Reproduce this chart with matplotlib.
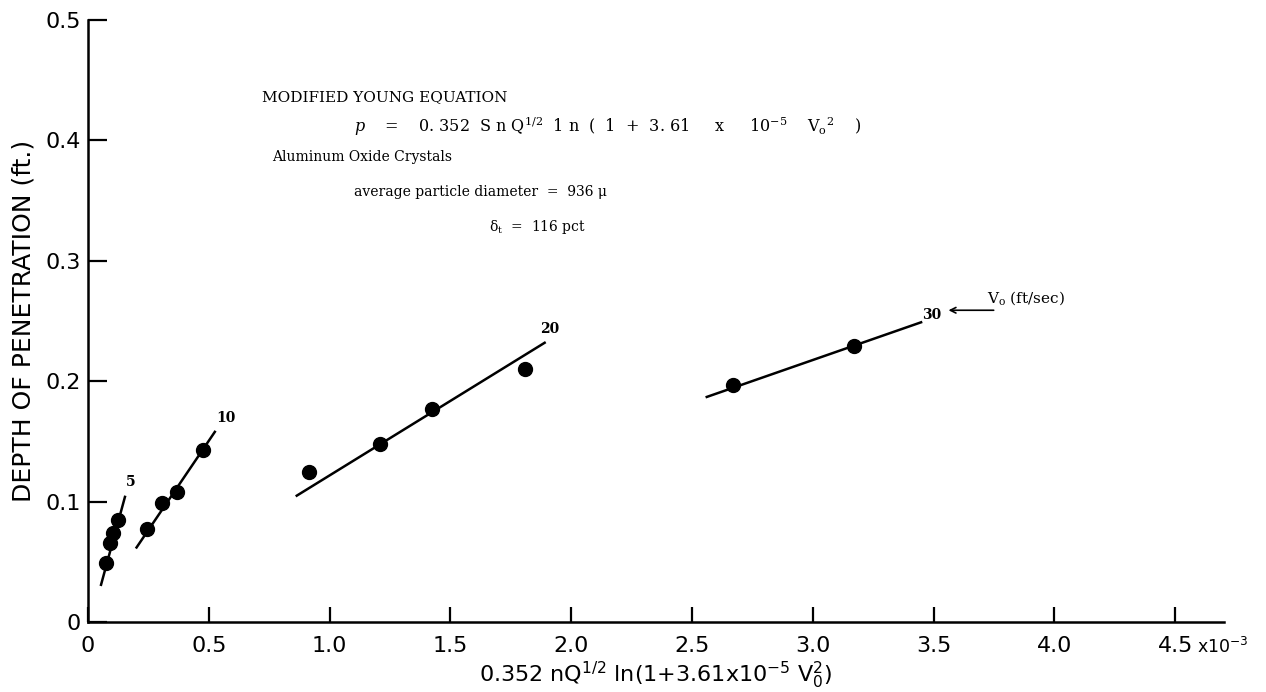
import matplotlib
matplotlib.use("Agg")
import matplotlib.pyplot as plt

# measured points, grouped by impact velocity Vo (ft/sec)
v5_x = [0.073, 0.091, 0.105, 0.125]
v5_y = [0.049, 0.066, 0.074, 0.085]
v10_x = [0.243, 0.305, 0.369, 0.474]
v10_y = [0.077, 0.099, 0.108, 0.143]
v20_x = [0.915, 1.208, 1.424, 1.81]
v20_y = [0.125, 0.148, 0.177, 0.210]
v30_x = [2.67, 3.17]
v30_y = [0.197, 0.229]

# hand drawn fit lines (end points)
fit5_x, fit5_y = [0.054, 0.153], [0.031, 0.104]
fit10_x, fit10_y = [0.201, 0.525], [0.062, 0.158]
fit20_x, fit20_y = [0.864, 1.89], [0.105, 0.232]
fit30_x, fit30_y = [2.561, 3.448], [0.187, 0.249]

xticks = [0, 0.5, 1.0, 1.5, 2.0, 2.5, 3.0, 3.5, 4.0, 4.5]
xticklabels = ["0", "0.5", "1.0", "1.5", "2.0", "2.5", "3.0", "3.5", "4.0", "4.5"]
yticks = [0, 0.1, 0.2, 0.3, 0.4, 0.5]
yticklabels = ["0", "0.1", "0.2", "0.3", "0.4", "0.5"]

fig = plt.figure(figsize=(12.66, 6.92), dpi=100)
ax = fig.add_axes([0.0695, 0.101, 0.897, 0.870])

for xs, ys in [(v5_x, v5_y), (v10_x, v10_y), (v20_x, v20_y), (v30_x, v30_y)]:
    ax.plot(xs, ys, 'o', color='black', markersize=10)
for xs, ys in [(fit5_x, fit5_y), (fit10_x, fit10_y), (fit20_x, fit20_y), (fit30_x, fit30_y)]:
    ax.plot(xs, ys, '-', color='black', linewidth=1.8)

ax.set_xlim(0, 4.7)
ax.set_ylim(0, 0.5)
ax.spines['top'].set_visible(False)
ax.spines['right'].set_visible(False)
ax.spines['left'].set_linewidth(1.8)
ax.spines['bottom'].set_linewidth(1.8)
ax.set_xticks(xticks)
ax.set_xticklabels(xticklabels)
ax.set_yticks(yticks)
ax.set_yticklabels(yticklabels)
ax.tick_params(axis='y', direction='in', length=14, width=1.6, pad=5, labelsize=16)
ax.tick_params(axis='x', direction='in', length=11, width=1.6, pad=10, labelsize=16)

ax.text(4.59, -0.0255, "x10$^{-3}$", fontsize=12.5, va='baseline', ha='left',
        math_fontfamily='dejavusans')

ax.set_ylabel("DEPTH OF PENETRATION (ft.)", fontsize=18, labelpad=7)
ax.set_xlabel("0.352 nQ$^{1/2}$ ln(1+3.61x10$^{-5}$ V$_0^2$)", fontsize=16, labelpad=3,
              math_fontfamily='dejavusans')

# curve labels
serif = 'DejaVu Serif'
ax.text(0.158, 0.113, "5", family=serif, fontsize=10, fontweight='bold')
ax.text(0.53, 0.166, "10", family=serif, fontsize=10, fontweight='bold')
ax.text(1.87, 0.240, "20", family=serif, fontsize=10, fontweight='bold')
ax.text(3.45, 0.252, "30", family=serif, fontsize=10, fontweight='bold')
ax.annotate("", xy=(3.55, 0.259), xytext=(3.76, 0.259),
            arrowprops=dict(arrowstyle='->', color='black', lw=1.2))
ax.text(3.72, 0.265, "V$_{\\rm o}$ (ft/sec)", family=serif, fontsize=11,
        math_fontfamily='dejavuserif')

# equation block
ax.text(0.72, 0.433, "MODIFIED YOUNG EQUATION", family=serif, fontsize=11)
ax.text(1.1, 0.407,
        "$p$    =    0. 352  S n Q$^{1/2}$  1 n  (  1  +  3. 61     x     10$^{-5}$    V$_{\\rm o}$$^{2}$    )",
        family=serif, fontsize=11.5, math_fontfamily='dejavuserif')
ax.text(0.76, 0.383, "Aluminum Oxide Crystals", family=serif, fontsize=10)
ax.text(1.1, 0.354, "average particle diameter  =  936 μ", family=serif, fontsize=10)
ax.text(1.66, 0.325, "δ$_{\\rm t}$  =  116 pct", family=serif, fontsize=10,
        math_fontfamily='dejavuserif')

fig.savefig("out.png", dpi=100)
